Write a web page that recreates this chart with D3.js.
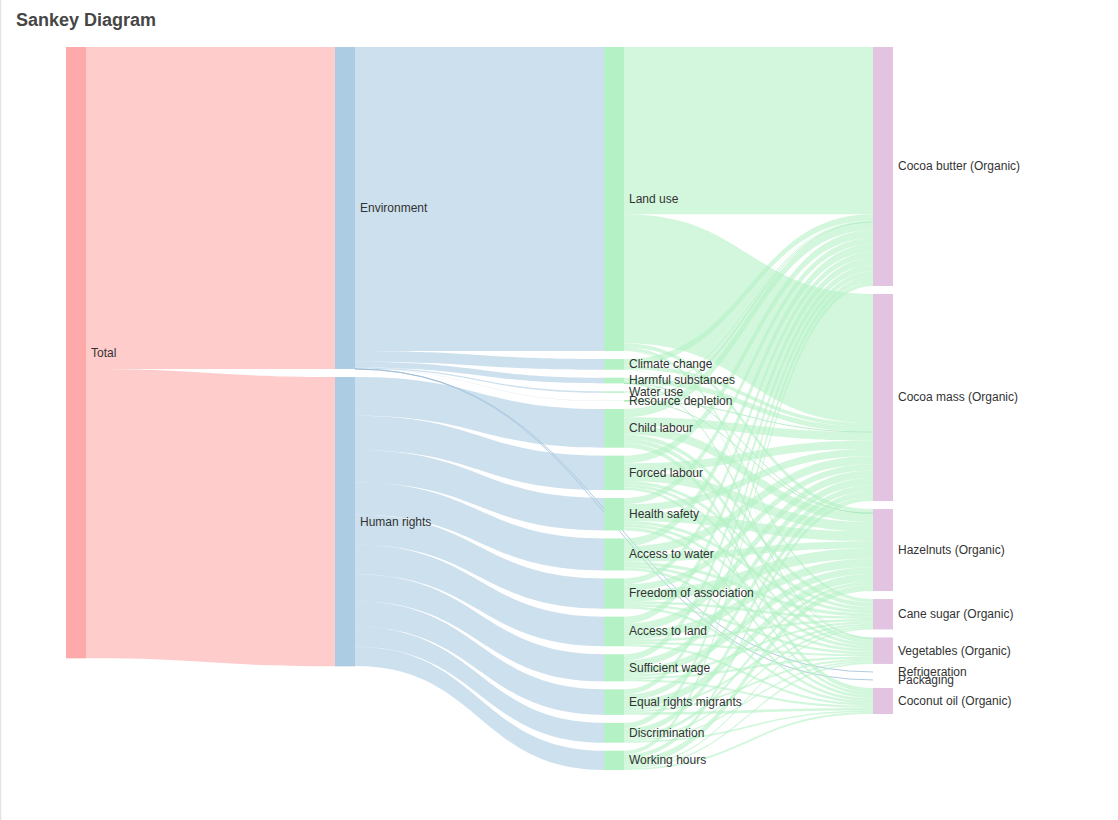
<!DOCTYPE html>
<html>
<head>
<meta charset="utf-8">
<script src="https://cdn.jsdelivr.net/npm/d3@7"></script>
<style>
body { margin: 0; background: #fff; }
svg { display: block; font-family: "Liberation Sans", Arial, sans-serif; }
</style>
</head>
<body>
<svg id="chart"></svg>
<script>
// node order as in the data (sets the order inside each column)
const nodeNames = ["Total", "Environment", "Land use", "Cocoa butter (Organic)", "Cocoa mass (Organic)",
    "Hazelnuts (Organic)", "Cane sugar (Organic)", "Vegetables (Organic)", "Climate change",
    "Harmful substances", "Water use", "Resource depletion", "Refrigeration", "Packaging",
    "Human rights", "Child labour", "Coconut oil (Organic)", "Forced labour", "Health safety",
    "Access to water", "Freedom of association", "Access to land", "Sufficient wage",
    "Equal rights migrants", "Discrimination", "Working hours"]

const pillars = ["Environment", "Human rights"]
const pillarValues = [0.342284, 0.307574]

const envImpacts = ["Land use", "Climate change", "Harmful substances", "Water use", "Resource depletion", "Refrigeration", "Packaging"]
const envImpactValues = [0.323229, 0.011289, 0.006043, 0.001483, 0.000241, 0, 0]

const hrImpacts = ["Child labour", "Forced labour", "Health safety", "Access to water", "Freedom of association",
    "Access to land", "Sufficient wage", "Equal rights migrants", "Discrimination", "Working hours"]
const hrImpactValues = [0.0411, 0.0365, 0.0345, 0.0340, 0.0321, 0.0315, 0.0288, 0.0271, 0.0211, 0.0205]

// columns of the impact -> product tables (null = no link)
const products = ["Cocoa butter (Organic)", "Cocoa mass (Organic)", "Hazelnuts (Organic)",
    "Coconut oil (Organic)", "Cane sugar (Organic)", "Vegetables (Organic)"]

const landUse = [0.177683, 0.137241, 0.004331, null, 0.002970, 0.001005]
const climateChange = [0.006769, 0.003947, 0.000219, null, 0.000316, 0.000038]
const harmfulSubstances = [0.000330, 0.005513, 0, null, 0.000200, 0]
const waterUse = [0.001353, 0.000106, 0.000013, null, 0.000009, 0.000003]
const resourceDepletion = [0, 0, 0, null, 0.000226, 0.000014]

const childLabour = [0.0087, 0.0090, 0.0093, 0.0047, 0.0046, 0.0048]
const forcedLabour = [0.0081, 0.0088, 0.0100, 0.0030, 0.0035, 0.0031]
const healthSafety = [0.0067, 0.0075, 0.0103, 0.0033, 0.0034, 0.0033]
const accessToWater = [0.0084, 0.0088, 0.0075, 0.0029, 0.0034, 0.0030]
const freedomOfAssociation = [0.0062, 0.0068, 0.0113, 0.0025, 0.0026, 0.0027]
const accessToLand = [0.0074, 0.0080, 0.0088, 0.0025, 0.0026, 0.0022]
const sufficientWage = [0.0068, 0.0075, 0.0074, 0.0023, 0.0024, 0.0024]
const equalRightsMigrants = [0.0055, 0.0062, 0.0080, 0.0028, 0.0025, 0.0021]
const discrimination = [0.0059, 0.0062, 0.0035, 0.0017, 0.0020, 0.0018]
const workingHours = [0.0042, 0.0045, 0.0065, 0.0020, 0.0016, 0.0017]

const envRows = [landUse, climateChange, harmfulSubstances, waterUse, resourceDepletion]
const hrRows = [childLabour, forcedLabour, healthSafety, accessToWater, freedomOfAssociation,
    accessToLand, sufficientWage, equalRightsMigrants, discrimination, workingHours]

const depthColors = ["#ffaaaa", "#abcce2", "#b4f1c5", "#e2c4e2"]
const hairlineColors = ["#f29a9a", "#93b7d3", "#a3e6b6", "#d4b3d4"]

let width = 1118
let height = 820
let areaLeft = 66, areaRight = 893, areaTop = 47, areaBottom = 770
let nodeWidth = 20
let nodeGap = 8

let svg = d3.select("#chart").attr("width", width).attr("height", height)

// build links
let rawLinks = []
pillars.forEach((p, i) => rawLinks.push(["Total", p, pillarValues[i]]))
envImpacts.forEach((d, i) => rawLinks.push(["Environment", d, envImpactValues[i]]))
envRows.forEach((row, i) => row.forEach((v, j) => { if (v !== null) rawLinks.push([envImpacts[i], products[j], v]) }))
hrImpacts.forEach((d, i) => rawLinks.push(["Human rights", d, hrImpactValues[i]]))
hrRows.forEach((row, i) => row.forEach((v, j) => { if (v !== null) rawLinks.push([hrImpacts[i], products[j], v]) }))

let nodes = nodeNames.map((name, i) => ({ name, index: i, inLinks: [], outLinks: [] }))
let byName = new Map(nodes.map(n => [n.name, n]))
let links = rawLinks.map(([s, t, v]) => {
    let l = { source: byName.get(s), target: byName.get(t), value: v }
    l.source.outLinks.push(l)
    l.target.inLinks.push(l)
    return l
})

// depths, sinks justified to the last column
nodes.forEach(n => n.depth = 0)
let changed = true
while (changed) {
    changed = false
    links.forEach(l => {
        if (l.target.depth < l.source.depth + 1) { l.target.depth = l.source.depth + 1; changed = true }
    })
}
let maxDepth = d3.max(nodes, n => n.depth)
nodes.forEach(n => { if (n.outLinks.length === 0) n.depth = maxDepth })
nodes.forEach(n => n.value = Math.max(d3.sum(n.inLinks, l => l.value), d3.sum(n.outLinks, l => l.value)))

let columns = d3.range(maxDepth + 1).map(d => nodes.filter(n => n.depth === d))

let xScale = d3.scaleLinear().domain([0, maxDepth]).range([areaLeft, areaRight - nodeWidth])
let ky = d3.min(columns, col => (areaBottom - areaTop - (col.length - 1) * nodeGap) / d3.sum(col, n => n.value))
let heightScale = d3.scaleLinear().domain([0, 1]).range([0, ky])

columns.forEach(col => {
    let y = areaTop
    col.forEach(n => {
        n.x = xScale(n.depth)
        n.y = y
        n.dy = heightScale(n.value)
        y += n.dy + nodeGap
    })
})

links.forEach(l => l.dy = heightScale(l.value))
nodes.forEach(n => {
    n.outLinks.sort((a, b) => a.target.y - b.target.y)
    n.inLinks.sort((a, b) => a.source.y - b.source.y)
    let sy = 0, ty = 0
    n.outLinks.forEach(l => { l.sy = sy; sy += l.dy })
    n.inLinks.forEach(l => { l.ty = ty; ty += l.dy })
})

const curve = 0.5
const linkPath = l => {
    let xs = l.source.x + nodeWidth, xt = l.target.x
    let ys = l.source.y + l.sy, yt = l.target.y + l.ty
    let cx1 = xs * (1 - curve) + xt * curve
    let cx2 = xs * curve + xt * (1 - curve)
    let p = d3.path()
    p.moveTo(xs, ys)
    p.bezierCurveTo(cx1, ys, cx2, yt, xt, yt)
    if (l.dy > 0) {
        p.lineTo(xt, yt + l.dy)
        p.bezierCurveTo(cx2, yt + l.dy, cx1, ys + l.dy, xs, ys + l.dy)
        p.closePath()
    }
    return p.toString()
}

// left frame edge
svg.append("line")
    .attr("x1", 0.5).attr("x2", 0.5).attr("y1", 0).attr("y2", height)
    .attr("stroke", "#e3e3e3").attr("stroke-width", 1.5)

svg.append("text")
    .attr("x", 16)
    .attr("y", 26)
    .attr("font-size", 18)
    .attr("font-weight", "bold")
    .attr("fill", "#464646")
    .text("Sankey Diagram")

svg.append("g")
    .selectAll("path")
    .data(links)
    .enter()
    .append("path")
    .attr("d", linkPath)
    .attr("fill", d => d.dy > 0 ? depthColors[d.source.depth] : "none")
    .attr("fill-opacity", 0.6)
    .attr("stroke", d => d.dy > 0 ? "none" : hairlineColors[d.source.depth])
    .attr("stroke-width", 0.8)
    .attr("stroke-opacity", 0.9)

svg.append("g")
    .selectAll("rect")
    .data(nodes)
    .enter()
    .append("rect")
    .attr("x", d => d.x)
    .attr("y", d => d.y)
    .attr("width", nodeWidth)
    .attr("height", d => d.dy)
    .attr("fill", d => depthColors[d.depth])

svg.append("g")
    .selectAll("text")
    .data(nodes)
    .enter()
    .append("text")
    .attr("x", d => d.x + nodeWidth + 5)
    .attr("y", d => d.y + d.dy / 2)
    .attr("dy", "0.32em")
    .attr("font-size", 12)
    .attr("fill", "#333")
    .text(d => d.name)
</script>
</body>
</html>
